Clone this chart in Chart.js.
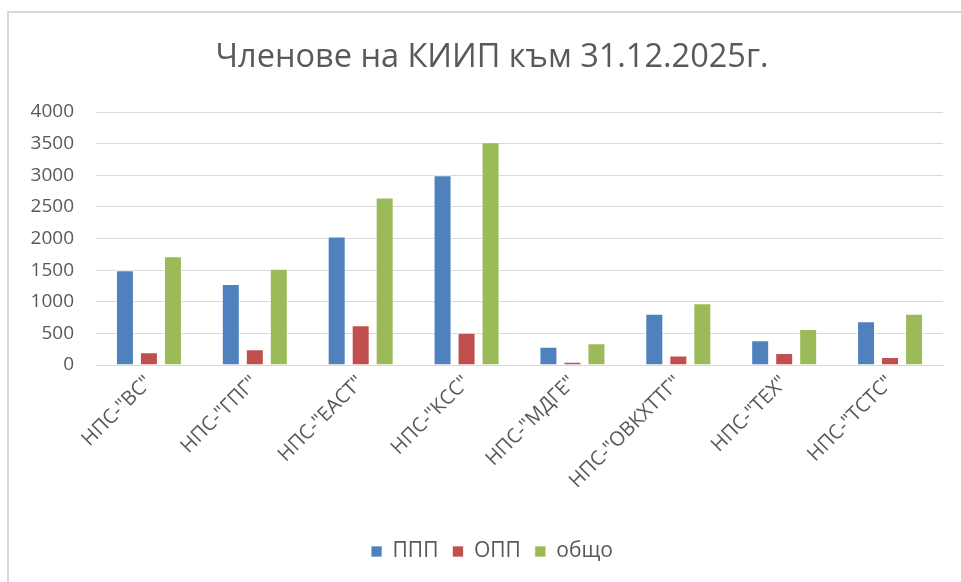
<!DOCTYPE html>
<html>
<head>
<meta charset="utf-8">
<script src="https://cdn.jsdelivr.net/npm/chart.js@4"></script>
<style>
  html, body { margin: 0; padding: 0; background: #fff; }
  #wrap { position: relative; width: 961px; height: 582px; }
  #frame { position: absolute; left: 7px; top: 11px; right: 0; bottom: 0; border-left: 2px solid #d9d9d9; border-top: 2px solid #d9d9d9; pointer-events: none; }
  canvas { position: absolute; left: 0; top: 0; }
</style>
</head>
<body>
<div id="wrap">
  <canvas id="c" width="961" height="582"></canvas>
  <div id="frame"></div>
</div>
<script>
const titleText = 'Членове на КИИП към 31.12.2025г.';
const categories = ['НПС-"ВС"', 'НПС-"ГПГ"', 'НПС-"ЕАСТ"', 'НПС-"КСС"', 'НПС-"МДГЕ"', 'НПС-"ОВКХТТГ"', 'НПС-"ТЕХ"', 'НПС-"ТСТС"'];
const seriesNames = ['ППП', 'ОПП', 'общо'];
const pppValues = [1500, 1280, 2030, 3000, 290, 810, 390, 690];
const oppValues = [200, 250, 630, 510, 50, 150, 190, 125];
const totalValues = [1720, 1520, 2650, 3520, 345, 975, 570, 810];
const yTicks = [0, 500, 1000, 1500, 2000, 2500, 3000, 3500, 4000];

const colors = ['#4F81BD', '#C0504D', '#9BBB59'];
const font = "'Open Sans', 'DejaVu Sans', sans-serif";
const txt = '#595959';

// shift title and legend so they are centred on the whole chart frame (as in the original)
const centerShift = {
  id: 'centerShift',
  afterLayout(chart) {
    [chart.titleBlock, chart.legend].forEach(b => { if (b) { b.left += 41; } });
  }
};

new Chart(document.getElementById('c'), {
  type: 'bar',
  data: {
    labels: categories,
    datasets: [pppValues, oppValues, totalValues].map((d, i) => ({
      label: seriesNames[i],
      data: d,
      backgroundColor: colors[i],
      borderColor: 'rgba(255,255,255,0.7)',
      borderWidth: 1,
      categoryPercentage: 0.68,
      barPercentage: 0.75
    }))
  },
  plugins: [centerShift],
  options: {
    responsive: false,
    animation: false,
    layout: { padding: { left: 0, right: 18, top: 0, bottom: 10 } },
    plugins: {
      title: {
        display: true,
        text: titleText,
        color: txt,
        font: { family: font, size: 32.5, weight: 'normal' },
        padding: { top: 38, bottom: 35 }
      },
      legend: {
        position: 'bottom',
        labels: {
          color: txt,
          font: { family: font, size: 21 },
          boxWidth: 11,
          boxHeight: 11,
          padding: 14
        }
      },
      tooltip: { enabled: false }
    },
    scales: {
      x: {
        grid: { display: false, drawTicks: false },
        border: { display: true, color: '#d9d9d9', width: 1 },
        ticks: {
          color: txt,
          font: { family: font, size: 20 },
          maxRotation: 45,
          minRotation: 45,
          padding: 6
        },
        afterFit: (s) => { s.height = 162; }
      },
      y: {
        min: 0,
        max: 4000,
        afterBuildTicks: (s) => { s.ticks = yTicks.map(v => ({ value: v })); },
        grid: { color: '#d9d9d9', lineWidth: 1, drawTicks: false },
        border: { display: false },
        ticks: {
          color: txt,
          font: { family: font, size: 19 },
          padding: 22,
          callback: (v) => String(v)
        },
        afterFit: (s) => { s.width = 96; }
      }
    }
  }
});
</script>
</body>
</html>
